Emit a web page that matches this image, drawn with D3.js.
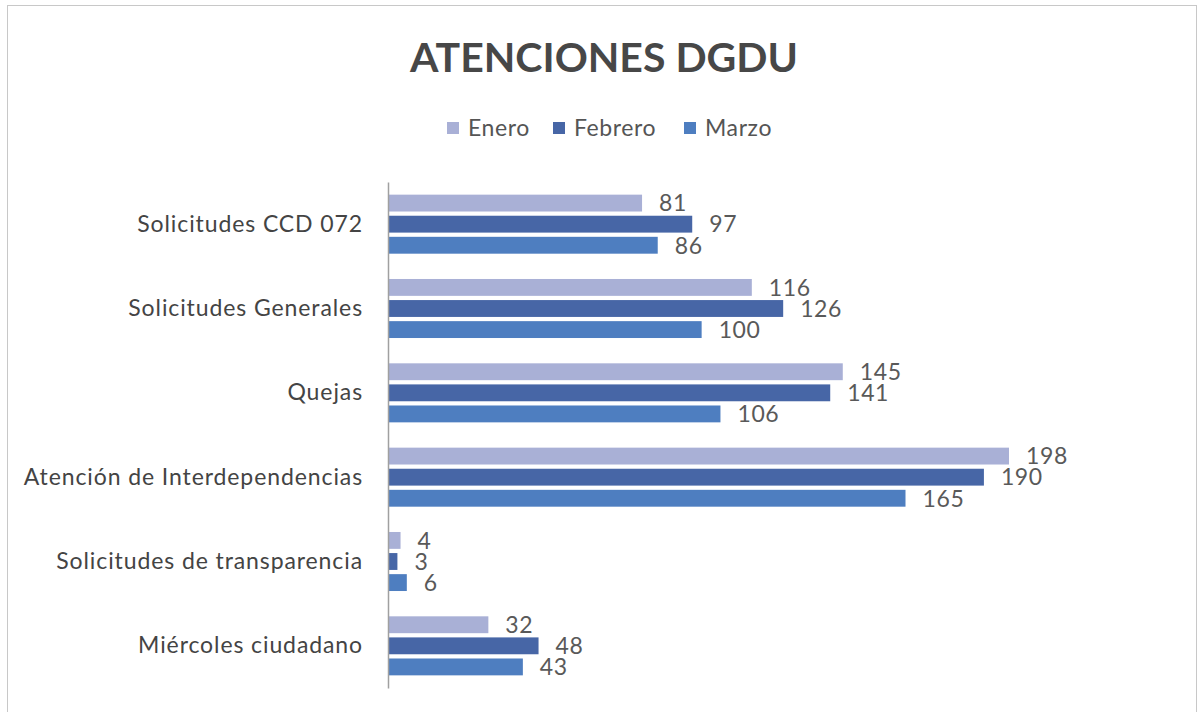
<!DOCTYPE html>
<html><head><meta charset="utf-8">
<script src="https://cdn.jsdelivr.net/npm/d3@7"></script>
<style>body{margin:0;background:#fff}svg{display:block}</style>
</head><body>
<svg id="c" width="1200" height="712"></svg>
<script>
const categories = ["Solicitudes CCD 072","Solicitudes Generales","Quejas","Atención de Interdependencias","Solicitudes de transparencia","Miércoles ciudadano"];
const seriesNames = ["Enero","Febrero","Marzo"];
const enero   = [81,116,145,198,4,32];
const febrero = [97,126,141,190,3,48];
const marzo   = [86,100,106,165,6,43];
const colors = ["#a9b0d6","#4766a6","#4e7ec0"];

const svg = d3.select("#c");
const font = "Lato, 'Open Sans', sans-serif";
svg.append("rect").attr("x",7.5).attr("y",5.5).attr("width",1189).attr("height",720)
  .attr("fill","#fff").attr("stroke","#c8c8c8").attr("stroke-width",1);

svg.append("text").attr("x",604).attr("y",72).attr("text-anchor","middle")
  .attr("font-family",font).attr("font-weight","bold").attr("font-size",41)
  .attr("fill","#474747").text("ATENCIONES DGDU");

// legend
const legX = [447,553,684];
seriesNames.forEach((s,i)=>{
  svg.append("rect").attr("x",legX[i]).attr("y",122).attr("width",12).attr("height",12).attr("fill",colors[i]);
  svg.append("text").attr("x",legX[i]+21).attr("y",136).attr("font-family",font).attr("font-size",23)
    .attr("letter-spacing",0.6).attr("fill","#555").text(s);
});

const data = categories.map((c,i)=>({cat:c, vals:[enero[i],febrero[i],marzo[i]]}));
const x = d3.scaleLinear().domain([0,198]).range([388,1009]);
const y = d3.scaleBand().domain(categories).range([182,688]).paddingInner(0.3).paddingOuter(0.15);
const y1 = d3.scaleBand().domain(seriesNames).range([0,y.bandwidth()]).paddingInner(0.2);

const g = svg.selectAll("g.grp").data(data).enter().append("g").attr("class","grp")
  .attr("transform",d=>`translate(0,${y(d.cat)})`);
g.selectAll("rect").data(d=>d.vals.map((v,i)=>({v,i}))).enter().append("rect")
  .attr("x",x(0)).attr("y",d=>y1(seriesNames[d.i])).attr("width",d=>x(d.v)-x(0))
  .attr("height",y1.bandwidth()).attr("fill",d=>colors[d.i]);
g.selectAll("text").data(d=>d.vals.map((v,i)=>({v,i}))).enter().append("text")
  .attr("x",d=>x(d.v)+17).attr("y",d=>y1(seriesNames[d.i])+y1.bandwidth()/2)
  .attr("dy","0.36em").attr("font-family",font).attr("font-size",23).attr("letter-spacing",0.6)
  .attr("fill","#595959").text(d=>d.v);

const yAxis = d3.axisLeft(y).tickSize(0).tickPadding(25);
const ga = svg.append("g").attr("transform","translate(388,0)").call(yAxis);
ga.select(".domain").attr("stroke","#a0a0a0").attr("stroke-width",1.5);
ga.selectAll("text").attr("font-family",font).attr("font-size",23).attr("letter-spacing",0.9).attr("fill","#444");
</script>
</body></html>
